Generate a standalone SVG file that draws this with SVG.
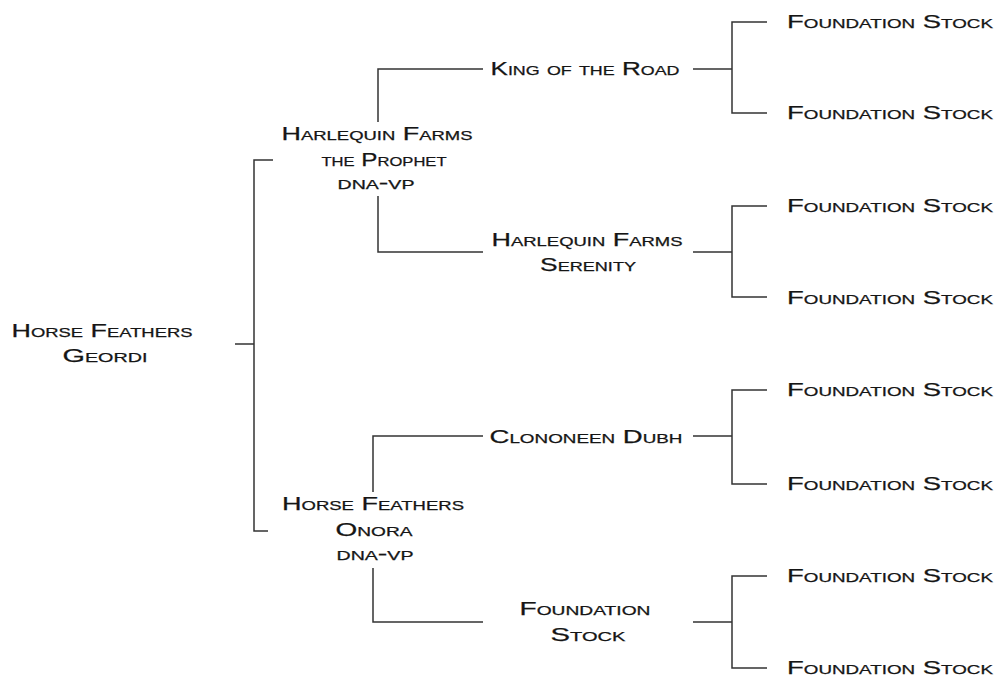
<svg xmlns="http://www.w3.org/2000/svg" width="999" height="677" viewBox="0 0 999 677">
<style>
text{font-family:"Liberation Sans",Arial,sans-serif;font-size:19px;font-variant:small-caps;fill:#151515;text-anchor:middle;stroke:#151515;stroke-width:0.25}
.c{fill:none;stroke:#333;stroke-width:1.5}
</style>
<rect width="999" height="677" fill="#fff"/>
<g id="connectors" class="c">
<path d="M235,344H254M273,160H254V531H268"/>
<path d="M378,122V69H483M378,196V252H483"/>
<path d="M373,492V436H483M373,568V622H483"/>
<path d="M693,69H732M767,22H732V113H767"/>
<path d="M693,252H732M767,206H732V297H767"/>
<path d="M693,436H732M767,390H732V484H767"/>
<path d="M693,622H732M767,576H732V668H767"/>
</g>
<g id="n1"><text x="102" y="337" textLength="181" lengthAdjust="spacingAndGlyphs">Horse Feathers</text><text x="105" y="362" textLength="85" lengthAdjust="spacingAndGlyphs">Geordi</text></g>
<g id="n2"><text x="377" y="140" textLength="191" lengthAdjust="spacingAndGlyphs">Harlequin Farms</text><text x="384" y="166" textLength="125" lengthAdjust="spacingAndGlyphs">the Prophet</text><text x="376" y="189" textLength="77" lengthAdjust="spacingAndGlyphs">dna-vp</text></g>
<g id="n3"><text x="373" y="510" textLength="182" lengthAdjust="spacingAndGlyphs">Horse Feathers</text><text x="374" y="536" textLength="77" lengthAdjust="spacingAndGlyphs">Onora</text><text x="375" y="560" textLength="77" lengthAdjust="spacingAndGlyphs">dna-vp</text></g>
<g id="n4"><text x="585" y="75" textLength="189" lengthAdjust="spacingAndGlyphs">King of the Road</text></g>
<g id="n5"><text x="587" y="246" textLength="191" lengthAdjust="spacingAndGlyphs">Harlequin Farms</text><text x="588" y="271" textLength="96" lengthAdjust="spacingAndGlyphs">Serenity</text></g>
<g id="n6"><text x="586" y="443" textLength="193" lengthAdjust="spacingAndGlyphs">Clononeen Dubh</text></g>
<g id="n7"><text x="585" y="615" textLength="131" lengthAdjust="spacingAndGlyphs">Foundation</text><text x="588" y="641" textLength="75" lengthAdjust="spacingAndGlyphs">Stock</text></g>
<g id="n8"><text x="890" y="28" textLength="206" lengthAdjust="spacingAndGlyphs">Foundation Stock</text></g>
<g id="n9"><text x="890" y="119" textLength="206" lengthAdjust="spacingAndGlyphs">Foundation Stock</text></g>
<g id="n10"><text x="890" y="212" textLength="206" lengthAdjust="spacingAndGlyphs">Foundation Stock</text></g>
<g id="n11"><text x="890" y="304" textLength="206" lengthAdjust="spacingAndGlyphs">Foundation Stock</text></g>
<g id="n12"><text x="890" y="396" textLength="206" lengthAdjust="spacingAndGlyphs">Foundation Stock</text></g>
<g id="n13"><text x="890" y="490" textLength="206" lengthAdjust="spacingAndGlyphs">Foundation Stock</text></g>
<g id="n14"><text x="890" y="582" textLength="206" lengthAdjust="spacingAndGlyphs">Foundation Stock</text></g>
<g id="n15"><text x="890" y="674" textLength="206" lengthAdjust="spacingAndGlyphs">Foundation Stock</text></g>
</svg>
